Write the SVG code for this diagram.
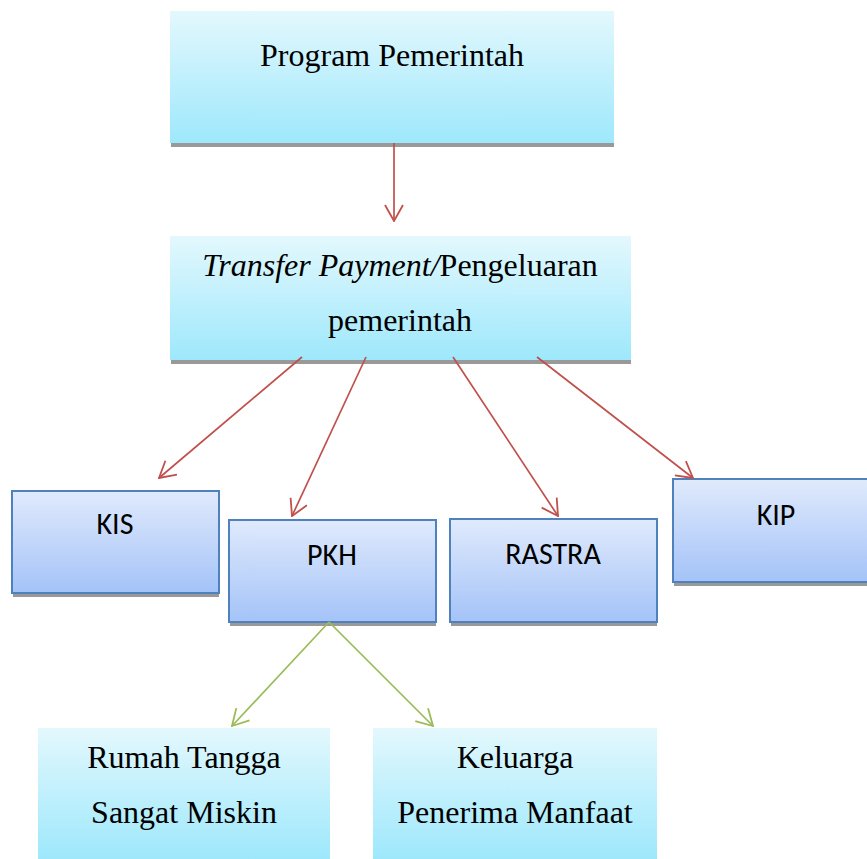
<svg xmlns="http://www.w3.org/2000/svg" width="867" height="859" viewBox="0 0 867 859">
<defs>
<linearGradient id="cyan" x1="0" y1="0" x2="0" y2="1">
<stop offset="0" stop-color="#e3f8fd"/>
<stop offset="1" stop-color="#9ee8fc"/>
</linearGradient>
<linearGradient id="blue" x1="0" y1="0" x2="0" y2="1">
<stop offset="0" stop-color="#e0eafc"/>
<stop offset="1" stop-color="#a4c3f8"/>
</linearGradient>
<marker id="arrR" viewBox="0 0 18 20" refX="17" refY="10" markerWidth="18" markerHeight="20" markerUnits="userSpaceOnUse" orient="auto">
<path d="M1,1 L17,10 L1,19" fill="none" stroke="#c0504d" stroke-width="1.8"/>
</marker>
<marker id="arrG" viewBox="0 0 18 20" refX="17" refY="10" markerWidth="18" markerHeight="20" markerUnits="userSpaceOnUse" orient="auto">
<path d="M1,1 L17,10 L1,19" fill="none" stroke="#9bbb59" stroke-width="1.8"/>
</marker>
</defs>
<style>
.shadow{fill:#999999}
.cyan{fill:url(#cyan)}
.blue{fill:url(#blue);stroke:#4f81bd;stroke-width:2}
.serif{font-family:"Liberation Serif","Times New Roman",serif;font-size:32px;fill:#000;text-anchor:middle}
.sans{font-family:Carlito,Calibri,Lato,sans-serif;font-size:30px;fill:#000;text-anchor:middle}
.red{stroke:#c0504d;stroke-width:1.7;fill:none;marker-end:url(#arrR)}
.green{stroke:#9bbb59;stroke-width:1.7;fill:none;marker-end:url(#arrG)}
</style>

<g id="node-program">
<rect class="shadow" x="171" y="143" width="443" height="4"/>
<rect class="cyan" x="170" y="11" width="444" height="132"/>
<text class="serif" x="392" y="66">Program Pemerintah</text>
</g>

<g id="node-transfer">
<rect class="shadow" x="171" y="360" width="460" height="4"/>
<rect class="cyan" x="170" y="236" width="461" height="124"/>
<text class="serif" x="400" y="276"><tspan font-style="italic">Transfer Payment/</tspan>Pengeluaran</text>
<text class="serif" x="400" y="331">pemerintah</text>
</g>

<g id="node-kis">
<rect class="shadow" x="13" y="495" width="206" height="102"/>
<rect class="blue" x="12" y="491" width="207" height="102"/>
<text class="sans" x="115" y="534">KIS</text>
</g>

<g id="node-pkh">
<rect class="shadow" x="230" y="524" width="206" height="102"/>
<rect class="blue" x="229" y="520" width="207" height="102"/>
<text class="sans" x="332" y="565">PKH</text>
</g>

<g id="node-rastra">
<rect class="shadow" x="451" y="523" width="206" height="103"/>
<rect class="blue" x="450" y="519" width="207" height="103"/>
<text class="sans" x="553" y="564">RASTRA</text>
</g>

<g id="node-kip">
<rect class="shadow" x="674" y="483" width="210" height="103"/>
<rect class="blue" x="673" y="479" width="210" height="103"/>
<text class="sans" x="776" y="525">KIP</text>
</g>

<g id="node-rtsm">
<rect class="cyan" x="38" y="728" width="292" height="131"/>
<text class="serif" x="184" y="768">Rumah Tangga</text>
<text class="serif" x="184" y="823">Sangat Miskin</text>
</g>

<g id="node-kpm">
<rect class="cyan" x="373" y="728" width="284" height="131"/>
<text class="serif" x="515" y="768">Keluarga</text>
<text class="serif" x="515" y="823">Penerima Manfaat</text>
</g>

<g id="connectors">
<line class="red" x1="394" y1="143" x2="394" y2="221"/>
<line class="red" x1="302" y1="357" x2="159" y2="478"/>
<line class="red" x1="366" y1="357" x2="292" y2="516"/>
<line class="red" x1="453" y1="357" x2="558" y2="516"/>
<line class="red" x1="537" y1="357" x2="693" y2="478"/>
<line class="green" x1="329" y1="622" x2="232" y2="726"/>
<line class="green" x1="329" y1="622" x2="433" y2="726"/>
</g>
</svg>
